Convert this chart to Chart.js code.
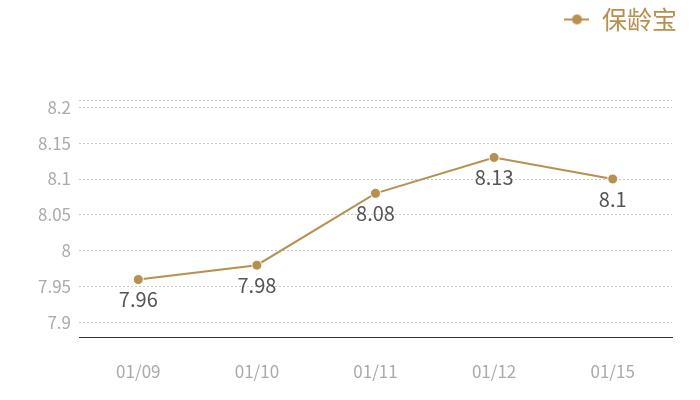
<!DOCTYPE html>
<html lang="zh">
  <head>
    <meta charset="utf-8">
    <title>保龄宝</title>
    <script src="https://cdn.jsdelivr.net/npm/chart.js@4"></script>
    <style>
      body { margin: 0; background: #fff; }
      #wrap { width: 700px; height: 400px; }
    </style>
  </head>
  <body>
    <div id="wrap"><canvas id="lineChart" width="700" height="400"></canvas></div>
  <script>
  // data
  var dates = ["01/09", "01/10", "01/11", "01/12", "01/15"];
  var values = [7.96, 7.98, 8.08, 8.13, 8.1];
  var yTicks = [7.9, 7.95, 8, 8.05, 8.1, 8.15, 8.2];
  var yMin = 7.88;
  var yMax = 8.21;
  var seriesName = "保龄宝";

  var gold = "#b8904e";
  var fontFam = "'Noto Sans CJK SC', 'Noto Sans', sans-serif";

  // legend marker: short line with a dot in the middle
  var marker = document.createElement("canvas");
  marker.width = 25; marker.height = 12;
  var mctx = marker.getContext("2d");
  mctx.strokeStyle = gold; mctx.lineWidth = 2;
  mctx.beginPath(); mctx.moveTo(0, 6); mctx.lineTo(25, 6); mctx.stroke();
  mctx.fillStyle = gold;
  mctx.beginPath(); mctx.arc(12.5, 6, 5, 0, Math.PI * 2); mctx.fill();

  // value labels under each point
  var valueLabels = {
    id: "valueLabels",
    afterDatasetsDraw: function(chart){
      var ctx = chart.ctx;
      var meta = chart.getDatasetMeta(0);
      ctx.save();
      ctx.font = "20px " + fontFam;
      ctx.fillStyle = "#555";
      ctx.textAlign = "center";
      ctx.textBaseline = "top";
      meta.data.forEach(function(pt, i){
        ctx.fillText(String(values[i]), pt.x, pt.y + 10);
      });
      ctx.restore();
    }
  };

  // push the plot area down below the legend, and nudge legend to the right edge
  var legendGap = {
    id: "legendGap",
    beforeInit: function(chart){
      var lg = chart.legend;
      var origFit = lg.fit;
      lg.fit = function(){
        origFit.call(this);
        this.height += 58;
      };
      var origDraw = lg.draw;
      lg.draw = function(){
        var ctx = this.ctx;
        ctx.save();
        ctx.translate(12, 0);
        origDraw.call(this);
        ctx.restore();
      };
    }
  };

  new Chart(document.getElementById("lineChart"), {
    type: "line",
    data: {
      labels: dates,
      datasets: [{
        label: seriesName,
        data: values,
        borderColor: gold,
        backgroundColor: gold,
        borderWidth: 2,
        pointRadius: 5,
        pointBorderColor: "#fff",
        pointBorderWidth: 1,
        pointBackgroundColor: gold,
        tension: 0
      }]
    },
    options: {
      responsive: false,
      animation: false,
      layout: { padding: { left: 0, right: 28, top: 0, bottom: 0 } },
      plugins: {
        tooltip: { enabled: false },
        legend: {
          position: "top",
          align: "end",
          labels: {
            usePointStyle: true,
            pointStyle: marker,
            color: gold,
            font: { size: 25, family: fontFam },
            padding: 7,
            generateLabels: function(chart){
              return [{ text: seriesName, pointStyle: marker, fontColor: gold, datasetIndex: 0 }];
            }
          }
        }
      },
      scales: {
        x: {
          offset: true,
          grid: { display: false, drawTicks: false },
          border: { display: true, color: "#333", width: 1 },
          ticks: { color: "#aaa", font: { size: 17, family: fontFam }, padding: 24 },
          afterFit: function(scale){ scale.height = 63; }
        },
        y: {
          min: yMin,
          max: yMax,
          afterBuildTicks: function(scale){
            scale.ticks = [yMin].concat(yTicks, [yMax]).map(function(v){ return { value: v }; });
          },
          grid: { color: "#c8c8c8", drawTicks: false },
          border: { display: false, dash: [2, 2] },
          ticks: {
            color: "#aaa",
            font: { size: 17, family: fontFam },
            padding: 8,
            callback: function(v){
              return yTicks.indexOf(v) >= 0 ? String(v) : "";
            }
          },
          afterFit: function(scale){ scale.width = 79; }
        }
      }
    },
    plugins: [valueLabels, legendGap]
  });
  </script>
  </body>
</html>
